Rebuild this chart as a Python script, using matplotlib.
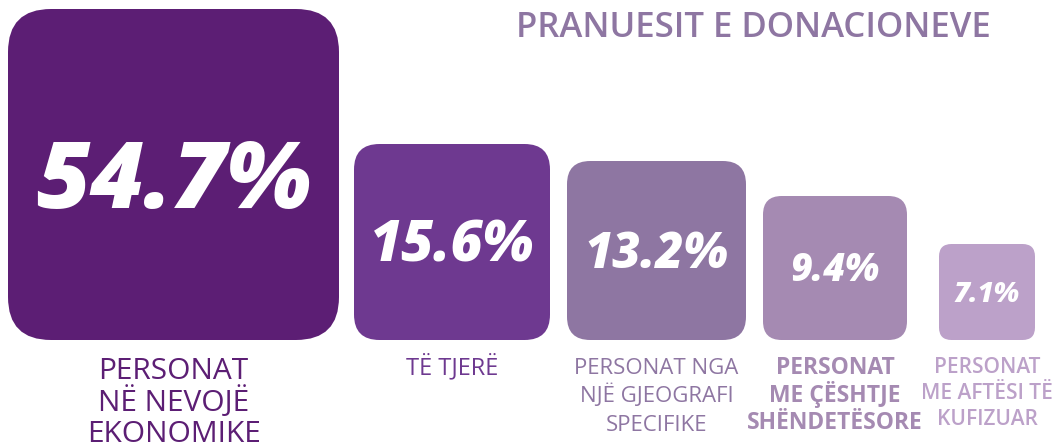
import matplotlib.pyplot as plt
from matplotlib.patches import FancyBboxPatch

# ── Data ──────────────────────────────────────────────────────────────────────
values = [54.7, 15.6, 13.2, 9.4, 7.1]
categories = [
    ["PERSONAT", "NË NEVOJË", "EKONOMIKE"],
    ["TË TJERË"],
    ["PERSONAT NGA", "NJË GJEOGRAFI", "SPECIFIKE"],
    ["PERSONAT", "ME ÇËSHTJE", "SHËNDETËSORE"],
    ["PERSONAT", "ME AFTËSI TË", "KUFIZUAR"],
]
title = "PRANUESIT E DONACIONEVE"

# ── Layout / style (pixels) ───────────────────────────────────────────────────
colors = ["#5C1E74", "#6E3990", "#8E76A2", "#A58AB2", "#BCA1C9"]
box_left = [8, 354, 567, 763, 939]
box_side = [331, 196, 179, 144, 96]
box_bottom = 340
num_size = [67, 40, 35, 27, 20]
lab_size = [21.5, 17, 16, 16.5, 15]
lab_weight = ["normal", "normal", "normal", "bold", "semibold"]
lab_spacing = [31.5, 28, 28.5, 27.5, 26]
lab_top = 358

W, H = 1056, 444
FONT = ["Open Sans", "DejaVu Sans"]

fig = plt.figure(figsize=(W / 100, H / 100), dpi=100)
ax = fig.add_axes([0, 0, 1, 1])
ax.set_xlim(0, W)
ax.set_ylim(H, 0)
ax.axis("off")

for i, v in enumerate(values):
    s = box_side[i]
    x0 = box_left[i]
    y0 = box_bottom - s
    ax.add_patch(FancyBboxPatch(
        (x0, y0), s, s,
        boxstyle=f"round,pad=0,rounding_size={s * 0.13:.1f}",
        facecolor=colors[i], edgecolor="none",
    ))
    cx = x0 + s / 2
    cy = y0 + s / 2
    cap = num_size[i] * 100 / 72 * 0.714
    ax.text(cx, cy + cap / 2, f"{v}%", ha="center", va="baseline",
            fontsize=num_size[i], fontweight="heavy", fontstyle="italic",
            color="white", family=FONT)

    lcap = lab_size[i] * 100 / 72 * 0.714
    for j, line in enumerate(categories[i]):
        ax.text(cx, lab_top + lcap + j * lab_spacing[i], line,
                ha="center", va="baseline", fontsize=lab_size[i],
                fontweight=lab_weight[i], color=colors[i], family=FONT)

tcap = 25 * 100 / 72 * 0.714
ax.text(753, 12 + tcap, title, ha="center", va="baseline", fontsize=25,
        fontweight="semibold", color="#8E76A2", family=FONT)

plt.savefig("out.png", dpi=100)
plt.close()
